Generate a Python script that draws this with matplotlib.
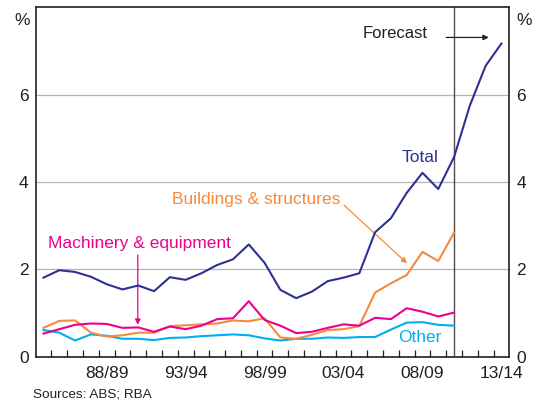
import matplotlib
matplotlib.use("Agg")
import matplotlib.pyplot as plt
import numpy as np

plt.rcParams['font.family'] = ['Liberation Sans', 'DejaVu Sans']

# Financial years, labelled by ending year (84/85 -> 1985 ... 13/14 -> 2014)
years_total = list(range(1985, 2015))
years_hist = list(range(1985, 2012))

total = [1.81, 1.98, 1.94, 1.83, 1.66, 1.54, 1.63, 1.50, 1.82, 1.76,
         1.91, 2.10, 2.23, 2.57, 2.15, 1.53, 1.34, 1.49, 1.73, 1.81,
         1.91, 2.85, 3.17, 3.75, 4.21, 3.84, 4.57, 5.75, 6.66, 7.17]
buildings = [0.66, 0.82, 0.83, 0.55, 0.46, 0.49, 0.55, 0.55, 0.70, 0.72,
             0.74, 0.76, 0.83, 0.81, 0.88, 0.44, 0.41, 0.50, 0.61, 0.63,
             0.70, 1.47, 1.68, 1.87, 2.40, 2.19, 2.84]
machinery = [0.53, 0.63, 0.73, 0.76, 0.75, 0.66, 0.67, 0.57, 0.69, 0.63,
             0.71, 0.86, 0.88, 1.27, 0.84, 0.71, 0.54, 0.57, 0.66, 0.74,
             0.71, 0.89, 0.86, 1.11, 1.03, 0.92, 1.01]
other = [0.61, 0.55, 0.37, 0.51, 0.48, 0.41, 0.41, 0.38, 0.43, 0.44,
         0.47, 0.49, 0.51, 0.49, 0.42, 0.37, 0.41, 0.41, 0.44, 0.43,
         0.45, 0.45, 0.62, 0.78, 0.79, 0.73, 0.71]

xtick_years = [1989, 1994, 1999, 2004, 2009, 2014]
xtick_labels = ['88/89', '93/94', '98/99', '03/04', '08/09', '13/14']
yticks = [0, 2, 4, 6]
forecast_start = 2011

c_total = '#2e3192'
c_build = '#f7893b'
c_mach = '#ec008c'
c_other = '#00aeef'
c_text = '#231f20'

fig = plt.figure(figsize=(5.48, 4.01), dpi=100)
ax = fig.add_axes([0.065, 0.1105, 0.8644, 0.8713])

ax.set_xlim(1984.5, 2014.5)
ax.set_ylim(0, 8)

for y in [2, 4, 6]:
    ax.axhline(y, color='#b4b4b4', lw=0.9, zorder=1)
ax.axvline(forecast_start, color='#4d4d4d', lw=1.0, zorder=2)

lw = 1.5
ax.plot(years_total, total, color=c_total, lw=lw, zorder=5)
ax.plot(years_hist, buildings, color=c_build, lw=lw, zorder=4)
ax.plot(years_hist, machinery, color=c_mach, lw=lw, zorder=4)
ax.plot(years_hist, other, color=c_other, lw=lw, zorder=3)

# ticks
ax.set_xticks(xtick_years)
ax.set_xticklabels(xtick_labels)
ax.set_xticks(np.arange(1985.5, 2014.5, 1.0), minor=True)
ax.tick_params(axis='x', which='major', length=0, pad=7, labelsize=12.5, colors=c_text)
ax.tick_params(axis='x', which='minor', length=5, direction='in', width=0.9, color='#231f20')
ax.set_yticks(yticks)
ax.tick_params(axis='y', which='both', length=0, labelsize=12.5, colors=c_text,
               left=True, right=True, labelleft=True, labelright=True, pad=5)

for s in ax.spines.values():
    s.set_color('#231f20')
    s.set_linewidth(1.2)

fs = 12.5
ax.text(-0.012, 0.985, '%', transform=ax.transAxes, ha='right', va='top', fontsize=fs, color=c_text)
ax.text(1.0156, 0.985, '%', transform=ax.transAxes, ha='left', va='top', fontsize=fs, color=c_text)

# annotations
ax.text(2007.26, 7.39, 'Forecast', ha='center', va='center', fontsize=12, color=c_text)
ax.annotate('', xy=(2013.2, 7.31), xytext=(2010.5, 7.31),
            arrowprops=dict(arrowstyle='-|>', color=c_text, lw=0.9,
                            mutation_scale=8, shrinkA=0, shrinkB=0))

ax.text(2008.84, 4.57, 'Total', ha='center', va='center', fontsize=fs, color=c_total)

ax.text(1998.46, 3.61, 'Buildings & structures', ha='center', va='center', fontsize=fs, color=c_build)
ax.annotate('', xy=(2008.02, 2.14), xytext=(2004.03, 3.47),
            arrowprops=dict(arrowstyle='-|>', color=c_build, lw=0.9,
                            mutation_scale=8, shrinkA=0, shrinkB=0))

ax.text(1991.09, 2.60, 'Machinery & equipment', ha='center', va='center', fontsize=fs, color=c_mach)
ax.annotate('', xy=(1990.97, 0.73), xytext=(1990.97, 2.33),
            arrowprops=dict(arrowstyle='-|>', color=c_mach, lw=0.9,
                            mutation_scale=8, shrinkA=0, shrinkB=0))

ax.text(2008.84, 0.43, 'Other', ha='center', va='center', fontsize=fs, color=c_other)

fig.text(0.06, 0.015, 'Sources: ABS; RBA', ha='left', va='center', fontsize=9.7, color=c_text)

fig.savefig('out.png', dpi=100)
